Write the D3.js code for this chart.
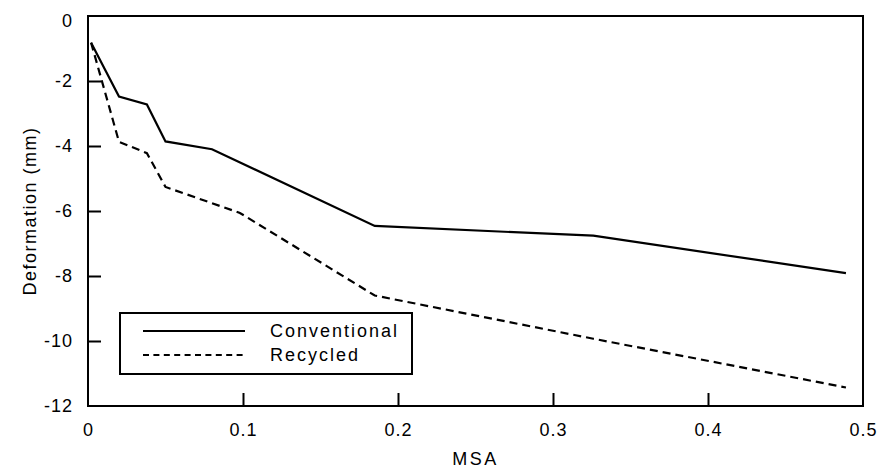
<!DOCTYPE html>
<html>
<head>
<meta charset="utf-8">
<script src="https://cdn.jsdelivr.net/npm/d3@7"></script>
<style>
  body { margin: 0; background: #fff; }
  text { font-family: "Liberation Sans", Arial, sans-serif; fill: #000; }
</style>
</head>
<body>
<div id="chart"></div>
<script>
// data
const msaConventional = [0.002, 0.02, 0.038, 0.05, 0.08, 0.185, 0.326, 0.489];
const conventional = [-0.82, -2.48, -2.72, -3.86, -4.1, -6.46, -6.76, -7.91];
const msaRecycled = [0.002, 0.02, 0.038, 0.05, 0.098, 0.185, 0.326, 0.489];
const recycled = [-0.82, -3.87, -4.22, -5.26, -6.06, -8.6, -9.93, -11.43];
const xTicks = [0, 0.1, 0.2, 0.3, 0.4, 0.5];
const yTicks = [0, -2, -4, -6, -8, -10, -12];
const seriesNames = ['Conventional', 'Recycled'];

const width = 884;
const height = 472;
const paddingLeft = 88;
const paddingRight = 21;
const paddingTop = 16;
const paddingBottom = 66;

const xScale = d3.scaleLinear()
    .domain([0, 0.5])
    .range([paddingLeft, width - paddingRight]);
const yScale = d3.scaleLinear()
    .domain([-12, 0])
    .range([height - paddingBottom, paddingTop]);

const svg = d3.select('#chart').append('svg')
    .attr('width', width)
    .attr('height', height);

// frame
svg.append('rect')
    .attr('x', xScale(0))
    .attr('y', yScale(0))
    .attr('width', xScale(0.5) - xScale(0))
    .attr('height', yScale(-12) - yScale(0))
    .attr('fill', 'none')
    .attr('stroke', '#000')
    .attr('stroke-width', 2);

// axes, ticks pointing inward
const xAxis = d3.axisBottom(xScale)
    .tickValues(xTicks)
    .tickSize(-13)
    .tickPadding(17)
    .tickFormat((d) => String(d));
const yAxis = d3.axisLeft(yScale)
    .tickValues(yTicks)
    .tickSize(-13)
    .tickPadding(15)
    .tickFormat((d) => String(d)); // plain hyphen, not unicode minus

const gx = svg.append('g')
    .attr('transform', `translate(0,${yScale(-12)})`)
    .call(xAxis);
const gy = svg.append('g')
    .attr('transform', `translate(${xScale(0)},0)`)
    .call(yAxis);

[gx, gy].forEach((g) => {
    g.select('.domain').remove();
    g.selectAll('.tick line').attr('stroke', '#000').attr('stroke-width', 2);
    g.selectAll('.tick text')
        .attr('font-size', 18)
        .attr('letter-spacing', 1)
        .attr('fill', '#000');
});
// no tick marks on the frame corners
gx.selectAll('.tick line').filter((d) => d === 0 || d === 0.5).remove();
gy.selectAll('.tick line').filter((d) => d === 0 || d === -12).remove();
// top label sits a little low in the original
gy.selectAll('.tick text').filter((d) => d === 0).attr('y', 5);

// axis titles
svg.append('text')
    .attr('x', (xScale(0) + xScale(0.5)) / 2)
    .attr('y', 465)
    .attr('text-anchor', 'middle')
    .attr('font-size', 18)
    .attr('letter-spacing', 2.5)
    .text('MSA');
svg.append('text')
    .attr('transform', `translate(36,${(yScale(0) + yScale(-12)) / 2}) rotate(-90)`)
    .attr('text-anchor', 'middle')
    .attr('font-size', 18)
    .attr('letter-spacing', 1.5)
    .text('Deformation (mm)');

// lines
const linePath = d3.line()
    .x((d) => xScale(d[0]))
    .y((d) => yScale(d[1]));

svg.append('path')
    .attr('d', linePath(d3.zip(msaConventional, conventional)))
    .attr('fill', 'none')
    .attr('stroke', '#000')
    .attr('stroke-width', 2.2);
svg.append('path')
    .attr('d', linePath(d3.zip(msaRecycled, recycled)))
    .attr('fill', 'none')
    .attr('stroke', '#000')
    .attr('stroke-width', 2.2)
    .attr('stroke-dasharray', '8,5');

// legend
const legend = svg.append('g').attr('transform', 'translate(120,313)');
legend.append('rect')
    .attr('width', 292)
    .attr('height', 61)
    .attr('fill', '#fff')
    .attr('stroke', '#000')
    .attr('stroke-width', 2);
seriesNames.forEach((name, i) => {
    const y = 18 + i * 24;
    legend.append('line')
        .attr('x1', 23)
        .attr('x2', 125)
        .attr('y1', y)
        .attr('y2', y)
        .attr('stroke', '#000')
        .attr('stroke-width', 2)
        .attr('stroke-dasharray', i === 1 ? '6,4.4' : null);
    legend.append('text')
        .attr('x', 150)
        .attr('y', y)
        .attr('dy', '0.35em')
        .attr('font-size', 18)
        .attr('letter-spacing', 2)
        .text(name);
});
</script>
</body>
</html>
